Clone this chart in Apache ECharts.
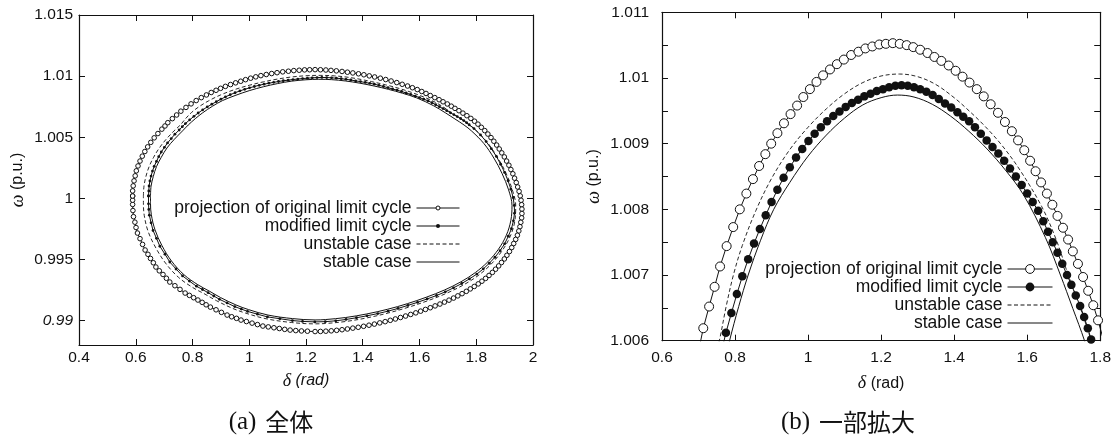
<!DOCTYPE html>
<html><head><meta charset="utf-8">
<script src="https://cdn.jsdelivr.net/npm/echarts@6/dist/echarts.min.js"></script>
<style>html,body{margin:0;padding:0;background:#fff}#c{width:1114px;height:439px}</style>
</head><body><div id="c"></div>
<script>
// ---------- data ----------
const seriesNames = ['projection of original limit cycle', 'modified limit cycle', 'unstable case', 'stable case'];

const projection = [
[0.589,1.00019],[0.589,1.00061],[0.591,1.00102],[0.594,1.00143],[0.598,1.00184],[0.602,1.00225],[0.608,1.00265],[0.615,1.00305],[0.623,1.00345],[0.632,1.00383],[0.642,1.00421],[0.653,1.00458],[0.665,1.00495],[0.678,1.00530],[0.692,1.00566],[0.703,1.00592],
[0.713,1.00619],[0.729,1.00652],[0.744,1.00682],[0.759,1.00713],[0.777,1.00744],[0.795,1.00773],[0.813,1.00800],[0.831,1.00824],[0.849,1.00846],[0.866,1.00866],[0.883,1.00884],[0.899,1.00900],[0.916,1.00916],[0.934,1.00931],[0.952,1.00945],[0.970,1.00958],[0.987,1.00971],[1.005,1.00983],[1.023,1.00994],[1.041,1.01004],[1.060,1.01013],[1.079,1.01021],[1.098,1.01028],[1.118,1.01035],[1.138,1.01040],[1.157,1.01045],[1.176,1.01048],[1.195,1.01051],[1.213,1.01052],[1.232,1.01053],[1.251,1.01052],[1.270,1.01050],[1.288,1.01047],[1.307,1.01043],[1.327,1.01038],[1.346,1.01032],[1.365,1.01026],[1.385,1.01019],[1.404,1.01011],[1.423,1.01002],[1.442,1.00993],[1.462,1.00983],[1.481,1.00972],[1.500,1.00960],[1.520,1.00947],[1.539,1.00933],[1.558,1.00919],[1.575,1.00905],[1.592,1.00890],[1.608,1.00874],[1.623,1.00858],[1.638,1.00841],[1.654,1.00824],[1.669,1.00807],[1.683,1.00790],[1.698,1.00772],[1.712,1.00754],[1.725,1.00736],[1.739,1.00717],[1.753,1.00697],[1.767,1.00676],[1.781,1.00654],[1.794,1.00631],[1.806,1.00607],
[1.818,1.00581],[1.830,1.00554],[1.841,1.00526],[1.852,1.00497],[1.862,1.00467],[1.872,1.00436],[1.881,1.00404],[1.890,1.00372],[1.899,1.00339],[1.907,1.00305],[1.915,1.00271],[1.922,1.00236],[1.929,1.00201],[1.935,1.00165],[1.941,1.00129],[1.946,1.00093],[1.951,1.00057],[1.955,1.00020],
[1.958,0.99984],[1.960,0.99948],[1.961,0.99912],[1.961,0.99876],[1.960,0.99840],[1.957,0.99804],[1.954,0.99768],[1.950,0.99733],[1.945,0.99698],[1.939,0.99664],[1.932,0.99630],[1.925,0.99597],[1.917,0.99565],[1.908,0.99534],[1.899,0.99504],[1.889,0.99475],[1.879,0.99447],[1.868,0.99420],[1.857,0.99394],[1.845,0.99369],[1.833,0.99345],[1.820,0.99322],[1.807,0.99300],[1.793,0.99279],[1.779,0.99259],[1.765,0.99239],[1.750,0.99220],[1.735,0.99202],[1.720,0.99184],[1.704,0.99167],[1.688,0.99151],[1.672,0.99135],[1.655,0.99120],[1.638,0.99105],[1.621,0.99091],[1.604,0.99077],[1.587,0.99063],[1.569,0.99050],[1.551,0.99037],[1.533,0.99025],[1.515,0.99013],[1.497,0.99002],[1.479,0.98991],[1.460,0.98981],[1.441,0.98971],[1.422,0.98962],[1.403,0.98953],[1.384,0.98945],[1.365,0.98938],[1.346,0.98931],[1.327,0.98925],[1.308,0.98920],[1.289,0.98916],[1.270,0.98913],[1.251,0.98911],[1.232,0.98910],
[1.205,0.98913],[1.184,0.98915],[1.164,0.98918],[1.144,0.98922],[1.125,0.98928],[1.106,0.98935],[1.087,0.98941],[1.067,0.98948],[1.048,0.98955],[1.029,0.98967],[1.010,0.98979],[0.990,0.98992],[0.971,0.99004],[0.955,0.99018],[0.938,0.99031],[0.922,0.99045],[0.902,0.99067],[0.883,0.99088],[0.863,0.99110],[0.848,0.99129],[0.834,0.99149],[0.819,0.99168],[0.804,0.99187],[0.789,0.99206],[0.774,0.99225],[0.756,0.99255],[0.738,0.99285],[0.720,0.99315],[0.708,0.99346],[0.696,0.99377],[0.683,0.99407],[0.671,0.99438],[0.662,0.99473],[0.652,0.99508],[0.643,0.99542],[0.633,0.99577],[0.624,0.99623],[0.615,0.99670],[0.606,0.99716],[0.601,0.99761],[0.597,0.99805],[0.592,0.99850],[0.590,0.99900],[0.589,0.99950],[0.589,0.99985],[0.589,1.00019]
];

const modified = [
[0.645,1.00019],[0.646,1.00060],[0.647,1.00101],[0.650,1.00142],[0.654,1.00182],[0.659,1.00223],[0.665,1.00262],[0.673,1.00302],[0.681,1.00341],[0.690,1.00379],[0.701,1.00417],[0.712,1.00453],[0.725,1.00489],[0.738,1.00525],[0.753,1.00559],[0.764,1.00586],
[0.775,1.00612],[0.790,1.00642],[0.805,1.00671],[0.820,1.00698],[0.836,1.00724],[0.852,1.00748],[0.868,1.00770],[0.884,1.00791],[0.900,1.00811],[0.916,1.00830],[0.933,1.00848],[0.950,1.00864],[0.967,1.00879],[0.984,1.00892],[1.001,1.00904],[1.018,1.00915],[1.035,1.00925],[1.052,1.00934],[1.069,1.00942],[1.086,1.00949],[1.103,1.00956],[1.120,1.00962],[1.137,1.00967],[1.154,1.00972],[1.171,1.00976],[1.188,1.00980],[1.205,1.00983],[1.222,1.00986],[1.239,1.00988],[1.256,1.00989],[1.273,1.00988],[1.290,1.00986],[1.307,1.00983],[1.324,1.00979],[1.341,1.00974],[1.358,1.00968],[1.375,1.00961],[1.392,1.00955],[1.409,1.00948],[1.425,1.00941],[1.441,1.00934],[1.457,1.00925],[1.473,1.00915],[1.489,1.00905],[1.505,1.00895],[1.521,1.00885],[1.537,1.00874],[1.553,1.00862],[1.569,1.00850],[1.585,1.00837],[1.600,1.00824],[1.615,1.00811],[1.630,1.00798],[1.644,1.00782],[1.657,1.00766],[1.670,1.00750],[1.683,1.00734],[1.696,1.00717],[1.709,1.00700],[1.721,1.00685],[1.733,1.00669],[1.745,1.00653],[1.756,1.00636],[1.766,1.00619],[1.775,1.00602],
[1.792,1.00571],[1.815,1.00519],[1.835,1.00464],[1.853,1.00406],[1.871,1.00343],[1.886,1.00279],[1.900,1.00212],[1.912,1.00144],[1.922,1.00075],[1.930,1.00007],[1.934,0.99942],[1.935,0.99878],[1.931,0.99816],[1.924,0.99751],[1.913,0.99690],[1.900,0.99628],[1.884,0.99572],[1.866,0.99518],[1.846,0.99469],[1.825,0.99423],[1.802,0.99380],[1.776,0.99341],[1.749,0.99303],[1.720,0.99268],[1.691,0.99235],[1.660,0.99205],[1.627,0.99177],[1.593,0.99149],[1.559,0.99124],[1.524,0.99099],[1.489,0.99077],[1.453,0.99057],[1.415,0.99039],[1.378,0.99023],[1.341,0.99009],[1.305,0.98998],[1.268,0.98991],[1.231,0.98989],
[1.188,0.98993],[1.152,0.99000],[1.108,0.99015],[1.064,0.99030],[1.029,0.99052],[0.994,0.99075],[0.972,0.99094],[0.949,0.99114],[0.922,0.99144],[0.895,0.99174],[0.875,0.99201],[0.855,0.99228],[0.835,0.99254],[0.814,0.99281],[0.789,0.99323],[0.765,0.99365],[0.742,0.99422],[0.720,0.99479],[0.703,0.99543],[0.685,0.99608],[0.673,0.99673],[0.661,0.99737],[0.654,0.99800],[0.648,0.99862],[0.646,0.99909],[0.645,0.99955],[0.645,1.00019]
];

const unstable = [
[0.627,1.00019],[0.629,1.00100],[0.636,1.00180],[0.647,1.00259],[0.663,1.00336],[0.683,1.00412],[0.707,1.00483],[0.735,1.00552],
[0.757,1.00600],[0.776,1.00653],[0.796,1.00701],[0.820,1.00745],[0.857,1.00798],[0.900,1.00847],[0.950,1.00891],[1.000,1.00925],[1.050,1.00953],[1.100,1.00976],[1.150,1.00993],[1.200,1.01003],[1.250,1.01006],[1.300,1.01002],[1.350,1.00990],[1.400,1.00970],[1.431,1.00955],[1.480,1.00929],[1.530,1.00898],[1.580,1.00860],[1.640,1.00804],[1.680,1.00753],[1.713,1.00699],[1.745,1.00651],[1.775,1.00601],
[1.792,1.00572],[1.836,1.00466],[1.872,1.00346],[1.903,1.00215],[1.926,1.00078],[1.939,0.99943],[1.936,0.99814],[1.919,0.99685],[1.889,0.99564],[1.851,0.99458],[1.806,0.99367],[1.753,0.99289],[1.694,0.99222],[1.629,0.99162],[1.561,0.99109],[1.490,0.99062],[1.417,0.99023],[1.342,0.98993],[1.269,0.98976],[1.232,0.98973],
[1.149,0.98984],[1.059,0.99015],[0.987,0.99061],[0.941,0.99100],[0.885,0.99162],[0.844,0.99216],[0.801,0.99270],[0.750,0.99355],[0.705,0.99470],[0.669,0.99602],[0.643,0.99733],[0.630,0.99860],[0.627,0.99954],[0.627,1.00019]
];

const stable = [
[0.652,1.00019],[0.654,1.00100],[0.662,1.00180],[0.673,1.00259],[0.690,1.00336],[0.710,1.00412],[0.736,1.00483],[0.765,1.00552],
[0.785,1.00600],[0.810,1.00652],[0.836,1.00700],[0.870,1.00753],[0.906,1.00800],[0.950,1.00841],[1.000,1.00881],[1.050,1.00913],[1.100,1.00939],[1.150,1.00959],[1.200,1.00970],[1.245,1.00974],[1.290,1.00971],[1.340,1.00960],[1.390,1.00942],[1.440,1.00919],[1.490,1.00892],[1.540,1.00860],[1.590,1.00822],[1.650,1.00757],[1.691,1.00700],[1.725,1.00649],[1.757,1.00600],
[1.784,1.00550],[1.827,1.00448],[1.862,1.00330],[1.891,1.00203],[1.914,1.00069],[1.926,0.99940],[1.922,0.99820],[1.906,0.99698],[1.878,0.99583],[1.841,0.99481],[1.797,0.99393],[1.746,0.99317],[1.688,0.99250],[1.624,0.99191],[1.557,0.99138],[1.487,0.99092],[1.414,0.99054],[1.340,0.99025],[1.268,0.99008],[1.232,0.99005],
[1.153,0.99016],[1.066,0.99045],[0.997,0.99090],[0.953,0.99128],[0.899,0.99188],[0.860,0.99240],[0.819,0.99293],[0.770,0.99375],[0.726,0.99487],[0.692,0.99615],[0.668,0.99742],[0.655,0.99865],[0.652,0.99956],[0.652,1.00019]
];

// tick values / labels
const leftXTicks = [0.4, 0.6, 0.8, 1, 1.2, 1.4, 1.6, 1.8, 2];
const leftYTicks = [0.99, 0.995, 1, 1.005, 1.01, 1.015];
const rightXTicks = [0.6, 0.8, 1, 1.2, 1.4, 1.6, 1.8];
const rightYLabels = [1.006, 1.007, 1.008, 1.009, 1.01, 1.011];
const rightYTicks = [1.006, 1.0065, 1.007, 1.0075, 1.008, 1.0085, 1.009, 1.0095, 1.01, 1.0105, 1.011];
const captions = ['(a)', '全体', '(b)', '一部拡大'];

// ---------- chart ----------
const FONT = "'Liberation Sans', Arial, Helvetica, sans-serif";
const SERIF = "'Liberation Serif', 'DejaVu Serif', serif";
const CJK = "'Noto Sans CJK JP', sans-serif";
const INK = '#111';

function xAxisDef(grid, min, max, ticks, top, o) {
  const a = {
    type: 'value', gridIndex: grid, min: min, max: max, position: top ? 'top' : 'bottom',
    axisLine: { show: true, onZero: false, lineStyle: { color: INK, width: 1.2 } },
    axisTick: { show: true, inside: true, length: 6, customValues: ticks, lineStyle: { color: INK, width: 1 } },
    splitLine: { show: false },
    axisLabel: { show: false }
  };
  if (!top) {
    a.axisLabel = { show: true, customValues: ticks, margin: o.margin, color: INK, fontSize: 15.5, fontFamily: FONT };
    a.name = '{g|δ} {r|(rad)}'; a.nameLocation = 'middle'; a.nameGap = o.nameGap;
    a.nameTextStyle = { color: INK, fontSize: 16, fontFamily: FONT,
      rich: { g: { fontStyle: 'italic', fontFamily: SERIF, fontSize: 18, color: INK },
              r: { fontStyle: o.italicUnit ? 'italic' : 'normal', fontFamily: FONT, fontSize: 16, color: INK } } };
  }
  return a;
}
function yAxisDef(grid, min, max, ticks, labels, right, o) {
  const a = {
    type: 'value', gridIndex: grid, min: min, max: max, position: right ? 'right' : 'left',
    axisLine: { show: true, onZero: false, lineStyle: { color: INK, width: 1.2 } },
    axisTick: { show: true, inside: true, length: 6, customValues: ticks, lineStyle: { color: INK, width: 1 } },
    splitLine: { show: false },
    axisLabel: { show: false }
  };
  if (!right) {
    a.axisLabel = { show: true, customValues: labels, margin: o.margin, color: INK, fontSize: 15.5, fontFamily: FONT,
      formatter: function (v) { return (o.italic && Math.abs(v - 0.99) < 1e-9) ? '{it|' + v + '}' : String(v); },
      rich: { it: { fontStyle: 'italic', fontSize: 15.5, fontFamily: FONT, color: INK } } };
    a.name = '{g|ω} (p.u.)'; a.nameLocation = 'middle'; a.nameGap = o.nameGap;
    a.nameTextStyle = { color: INK, fontSize: 16, fontFamily: FONT,
      rich: { g: { fontStyle: 'italic', fontFamily: SERIF, fontSize: 18, color: INK } } };
  }
  return a;
}
function seriesFor(idx, big) {
  const common = { type: 'line', xAxisIndex: idx * 2, yAxisIndex: idx * 2, silent: true, emphasis: { disabled: true }, animation: false };
  return [
    Object.assign({}, common, { name: seriesNames[0], data: projection, symbol: 'circle', symbolSize: big ? 9 : 4.6,
      lineStyle: { color: INK, width: 1 }, itemStyle: { color: '#fff', borderColor: INK, borderWidth: 1 }, z: 5 }),
    Object.assign({}, common, { name: seriesNames[1], data: modified, symbol: 'circle', symbolSize: big ? 8.5 : 2.8,
      lineStyle: { color: INK, width: 1 }, itemStyle: { color: INK }, z: 4 }),
    Object.assign({}, common, { name: seriesNames[2], data: unstable, symbol: 'none', smooth: 0.35,
      lineStyle: { color: INK, width: 0.9, type: [4, 2.5] }, itemStyle: { color: INK }, z: 3 }),
    Object.assign({}, common, { name: seriesNames[3], data: stable, symbol: 'none', smooth: 0.35,
      lineStyle: { color: INK, width: 1 }, itemStyle: { color: INK }, z: 3 })
  ];
}
function legendDef(right, top, iconH, iconW) {
  return {
    orient: 'vertical', align: 'right', right: right, top: top, padding: 0, itemGap: 0,
    itemWidth: iconW, itemHeight: iconH, selectedMode: false,
    textStyle: { color: INK, fontSize: 17.5, fontFamily: FONT, lineHeight: 18 },
    lineStyle: { width: 1 },
    itemStyle: { borderWidth: 1 },
    data: [
      { name: seriesNames[0] },
      { name: seriesNames[1] },
      { name: seriesNames[2], itemStyle: { opacity: 0 } },
      { name: seriesNames[3], itemStyle: { opacity: 0 } }
    ]
  };
}
function caption(x, a, c) {
  return { type: 'text', x: x, y: 422, silent: true,
    style: { text: '{a|' + a + '}{s|}{c|' + c + '}', align: 'center', verticalAlign: 'middle',
      rich: { a: { fontSize: 25, fontFamily: SERIF, fill: INK }, s: { width: 9 }, c: { fontSize: 24, fontFamily: CJK, fill: INK } } } };
}

const chart = echarts.init(document.getElementById('c'));
chart.setOption({
  animation: false,
  backgroundColor: '#fff',
  grid: [
    { left: 79, top: 15, right: 581, bottom: 94 },
    { left: 662, top: 12.3, right: 12, bottom: 98.3 }
  ],
  xAxis: [
    xAxisDef(0, 0.4, 2, leftXTicks, false, { margin: 5, nameGap: 27, italicUnit: true }),
    xAxisDef(0, 0.4, 2, leftXTicks, true),
    xAxisDef(1, 0.6, 1.8, rightXTicks, false, { margin: 9, nameGap: 34, italicUnit: false }),
    xAxisDef(1, 0.6, 1.8, rightXTicks, true)
  ],
  yAxis: [
    yAxisDef(0, 0.988, 1.015, leftYTicks, leftYTicks, false, { margin: 6, nameGap: 52, italic: true }),
    yAxisDef(0, 0.988, 1.015, leftYTicks, leftYTicks, true),
    yAxisDef(1, 1.006, 1.011, rightYTicks, rightYLabels, false, { margin: 13, nameGap: 59, italic: false }),
    yAxisDef(1, 1.006, 1.011, rightYTicks, rightYLabels, true)
  ],
  legend: [
    legendDef(654, 199, 5, 43),
    legendDef(61, 260, 11, 45)
  ],
  series: seriesFor(0, false).concat(seriesFor(1, true)),
  graphic: [
    caption(271, captions[0], captions[1]),
    caption(848, captions[2], captions[3])
  ]
});
</script>
</body></html>
